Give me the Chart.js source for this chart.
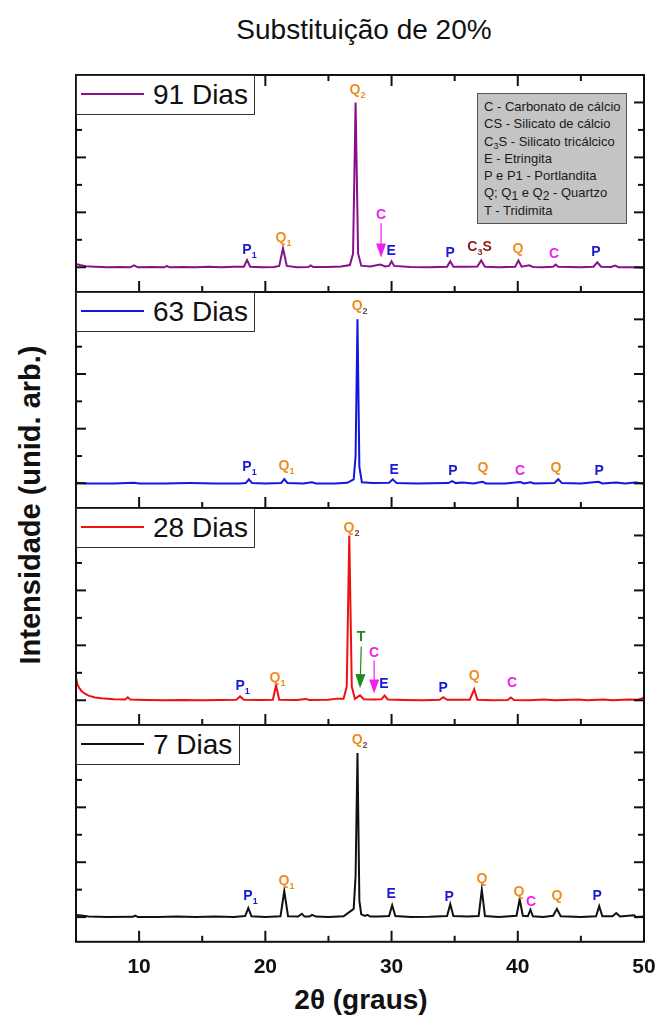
<!DOCTYPE html>
<html>
<head>
<meta charset="utf-8">
<script src="https://cdn.jsdelivr.net/npm/chart.js@4.4.1/dist/chart.umd.min.js"></script>
<style>
  body { margin: 0; background: #fff; font-family: "Liberation Sans", Arial, sans-serif; }
  #page { position: relative; width: 659px; height: 1027px; overflow: hidden; }
  .panel { position: absolute; left: 0; width: 659px; }
  .legend { position: absolute; left: 76px; height: 40px; background: #fff; border: 1px solid #333; box-sizing: border-box; z-index: 2; }
  .legend .swatch { position: absolute; left: 4px; top: 17px; width: 63px; height: 0; border-top: 2px solid; }
  .legend .txt { position: absolute; left: 76px; top: 1px; font-size: 28px; line-height: 36px; color: #111; white-space: nowrap; }
  #minerals { position: absolute; left: 477px; top: 93px; width: 150px; height: 131px; box-sizing: border-box;
              background: #c4c4c4; border: 1px solid #555; z-index: 2; padding: 4px 0 0 6px;
              font-size: 13px; line-height: 17.3px; color: #1a1a1a; white-space: nowrap; }
  #minerals sub { font-size: 9px; vertical-align: -3px; line-height: 0; }
  .title { position: absolute; left: 364px; top: 30px; transform: translate(-50%, -50%); font-size: 28px; color: #111; white-space: nowrap; }
  .ylab { position: absolute; left: 30px; top: 505px; transform: translate(-50%, -50%) rotate(-90deg); font-size: 29px; font-weight: bold; color: #111; white-space: nowrap; }
  .xlab { position: absolute; left: 361px; top: 1000px; transform: translate(-50%, -50%); font-size: 28px; font-weight: bold; color: #111; white-space: nowrap; }
</style>
</head>
<body>
<div id="page">
  <div class="title">Substituição de 20%</div>
  <div class="ylab">Intensidade (unid. arb.)</div>
  <div class="xlab">2θ (graus)</div>

  <div class="panel" style="top:65px;height:237px"><canvas id="c91"></canvas></div>
  <div class="panel" style="top:282px;height:236px"><canvas id="c63"></canvas></div>
  <div class="panel" style="top:498px;height:237px"><canvas id="c28"></canvas></div>
  <div class="panel" style="top:715px;height:270px"><canvas id="c7"></canvas></div>

  <div class="legend" style="top:75px;width:179px"><span class="swatch" style="border-color:#88108a"></span><span class="txt">91 Dias</span></div>
  <div class="legend" style="top:292px;width:179px"><span class="swatch" style="border-color:#1515e0"></span><span class="txt">63 Dias</span></div>
  <div class="legend" style="top:508px;width:179px"><span class="swatch" style="border-color:#ee1111"></span><span class="txt">28 Dias</span></div>
  <div class="legend" style="top:725px;width:164px"><span class="swatch" style="border-color:#111"></span><span class="txt">7 Dias</span></div>

  <div id="minerals">
    C - Carbonato de cálcio<br>
    CS - Silicato de cálcio<br>
    C<sub>3</sub>S - Silicato tricálcico<br>
    E - Etringita<br>
    P e P1 - Portlandita<br>
    Q; Q<sub style="font-size:12px">1</sub> e Q<sub style="font-size:12px">2</sub> - Quartzo<br>
    T - Tridimita
  </div>
</div>

<script>
// ---- data (2θ in degrees, intensity in arbitrary units) ----
const xTickLabels = [10, 20, 30, 40, 50];
const xMinorTicks = [15, 25, 35, 45];
const yTickValues = [0, 1, 2, 3, 4, 5, 6];

const dias91 = [
  [5.0,0.12],[5.3,0.08],[5.8,0.04],[6.5,0.02],[7.5,0.0],[8.5,0.01],[9.3,0.0],[9.6,0.07],[9.9,0.0],
  [11.0,0.01],[12.0,0.0],[12.2,0.05],[12.4,0.0],[13.5,0.01],[14.5,0.0],[15.5,0.02],[16.5,0.0],
  [17.5,0.02],[18.3,0.02],[18.55,0.26],[18.8,0.02],[19.8,0.0],[20.7,0.01],[21.1,0.05],[21.4,0.69],
  [21.7,0.05],[22.5,0.0],[23.4,0.01],[23.6,0.07],[23.8,0.01],[25.0,0.01],[26.0,0.03],[26.7,0.08],
  [26.95,0.5],[27.15,6.0],[27.35,0.5],[27.6,0.06],[28.3,0.03],[29.1,0.1],[29.5,0.03],[29.8,0.05],
  [30.0,0.22],[30.2,0.05],[31.5,0.01],[33.0,0.0],[34.4,0.02],[34.65,0.22],[34.9,0.02],[36.0,0.02],
  [36.8,0.03],[37.1,0.25],[37.4,0.02],[38.5,0.0],[39.8,0.02],[40.05,0.25],[40.3,0.02],[40.9,0.07],
  [41.2,0.01],[42.0,0.0],[42.8,0.02],[43.0,0.1],[43.2,0.02],[45.0,0.0],[46.0,0.02],[46.3,0.18],
  [46.6,0.02],[47.4,0.01],[47.7,0.06],[48.0,0.0],[49.0,0.0],[50.0,-0.02]
];
const dias63 = [
  [5.0,0.02],[6.0,0.0],[8.0,0.0],[9.6,0.02],[10.0,0.0],[12.0,0.0],[14.0,0.01],[16.0,0.0],[18.0,0.0],
  [18.45,0.01],[18.7,0.15],[18.95,0.01],[20.0,0.0],[21.25,0.01],[21.5,0.16],[21.75,0.01],[23.0,0.0],
  [23.7,0.04],[24.0,0.0],[25.5,0.0],[26.5,0.02],[27.0,0.15],[27.15,1.0],[27.3,6.0],[27.45,0.6],
  [27.65,0.04],[28.5,0.01],[29.8,0.02],[30.1,0.15],[30.4,0.01],[32.0,0.0],[34.5,0.01],[34.8,0.08],
  [35.1,0.01],[35.6,0.03],[36.5,0.0],[37.2,0.06],[37.5,0.0],[39.0,0.0],[40.2,0.05],[40.5,0.0],
  [41.0,0.04],[41.3,0.0],[42.9,0.01],[43.2,0.15],[43.5,0.01],[45.0,0.0],[46.4,0.06],[46.7,0.0],
  [47.8,0.03],[48.5,0.0],[49.3,0.03],[50.0,0.0]
];
const dias28 = [
  [5.0,0.82],[5.1,0.6],[5.25,0.45],[5.45,0.33],[5.7,0.24],[6.0,0.17],[6.5,0.1],[7.0,0.07],[8.0,0.04],
  [8.9,0.03],[9.1,0.11],[9.3,0.03],[10.5,0.01],[12.0,0.0],[13.5,0.01],[15.0,0.0],[16.5,0.01],
  [17.7,0.02],[18.0,0.14],[18.3,0.02],[19.5,0.01],[20.6,0.02],[20.85,0.55],[21.1,0.02],[22.5,0.01],
  [23.2,0.05],[23.5,0.01],[25.0,0.02],[25.7,0.06],[26.2,0.06],[26.45,0.5],[26.65,6.0],[26.85,0.5],
  [27.1,0.05],[27.5,0.18],[27.8,0.04],[28.6,0.03],[29.2,0.04],[29.45,0.17],[29.7,0.03],[31.0,0.01],
  [32.5,0.0],[33.8,0.02],[34.1,0.11],[34.4,0.02],[36.2,0.02],[36.55,0.4],[36.8,0.02],[38.0,0.0],
  [39.2,0.01],[39.45,0.1],[39.7,0.01],[41.0,0.0],[42.0,0.03],[43.0,0.0],[44.8,0.03],[45.5,0.0],
  [46.8,0.03],[47.5,0.0],[48.8,0.03],[49.5,0.02],[49.9,0.08],[50.0,0.12]
];
const dias7 = [
  [5.0,0.08],[5.4,0.06],[6.0,0.02],[7.5,0.0],[9.5,0.01],[9.7,0.05],[9.9,0.0],[11.5,0.0],[13.0,0.02],
  [14.5,0.0],[16.0,0.02],[17.5,0.0],[18.4,0.04],[18.65,0.33],[18.9,0.03],[20.0,0.0],[21.2,0.03],
  [21.5,0.95],[21.8,0.03],[22.6,0.02],[22.9,0.12],[23.1,0.02],[23.5,0.02],[23.7,0.08],[24.0,0.02],
  [25.0,0.0],[26.2,0.03],[27.0,0.3],[27.15,1.5],[27.3,5.98],[27.45,0.6],[27.6,0.1],[27.9,0.04],
  [28.1,0.08],[28.3,0.02],[29.0,0.02],[29.8,0.04],[30.05,0.43],[30.3,0.04],[31.5,0.0],[33.0,0.01],
  [34.4,0.04],[34.65,0.47],[34.9,0.04],[36.0,0.02],[36.9,0.04],[37.15,1.0],[37.4,0.04],[38.5,0.0],
  [39.9,0.05],[40.15,0.65],[40.4,0.05],[40.8,0.03],[41.0,0.27],[41.2,0.03],[42.0,0.0],[42.8,0.05],
  [43.1,0.3],[43.4,0.03],[45.0,0.0],[46.2,0.03],[46.45,0.4],[46.7,0.03],[47.5,0.03],[47.8,0.15],
  [48.1,0.02],[49.2,0.07],[49.4,0.0],[50.0,0.02]
];

// peak labels: [letter, subscript, suffix, 2θ, intensity]
const labels91 = [
  ['Q','2','',27.1,6.44],['P','1','',18.55,0.62],['Q','1','',21.24,1.05],['C','','',29.17,1.89],
  ['E','','',29.96,0.58],['P','','',34.64,0.51],['C','3','S',36.4,0.73],['Q','','',40.02,0.65],
  ['C','','',42.88,0.47],['P','','',46.2,0.55]
];
const labels63 = [
  ['Q','2','',27.27,6.47],['P','1','',18.55,0.58],['Q','1','',21.48,0.62],['E','','',30.2,0.47],
  ['P','','',34.87,0.44],['Q','','',37.25,0.55],['C','','',40.18,0.44],['Q','','',43.03,0.55],
  ['P','','',46.44,0.44]
];
const labels28 = [
  ['Q','2','',26.63,6.25],['P','1','',18.0,0.51],['Q','1','',20.77,0.8],['T','','',27.58,2.29],
  ['C','','',28.61,1.7],['E','','',29.4,0.58],['P','','',34.08,0.44],['Q','','',36.54,0.87],
  ['C','','',39.55,0.62]
];
const labels7 = [
  ['Q','2','',27.27,6.44],['P','1','',18.63,0.76],['Q','1','',21.48,1.31],['E','','',29.96,0.84],
  ['P','','',34.56,0.73],['Q','','',37.17,1.38],['Q','','',40.1,0.91],['C','','',41.05,0.55],
  ['Q','','',43.11,0.76],['P','','',46.28,0.76]
];

// arrows: [letter, 2θ from, intensity from, 2θ to, intensity to]
const arrows91 = [['C',29.17,1.6,29.17,0.36]];
const arrows28 = [['T',27.6,1.96,27.5,0.44],['C',28.62,1.45,28.62,0.25]];

// ---- drawing ----
const letterColors = { Q: '#f08c1e', P: '#1a1ad6', E: '#1a1ad6', C: '#f01ef0', T: '#1d8a1d', C3S: '#8b1a1a' };

function colorFor(l) {
  if (l[0] === 'C' && l[2] === 'S') return letterColors.C3S;
  return letterColors[l[0]];
}

const framePlugin = {
  id: 'frame',
  afterDatasetsDraw(chart, args, opts) {
    const { ctx, chartArea: a, scales: { x, y } } = chart;
    ctx.save();
    ctx.strokeStyle = '#111';
    ctx.lineWidth = 2;
    ctx.strokeRect(a.left, a.top, a.right - a.left, a.bottom - a.top);

    const seg = (x1, y1, x2, y2) => { ctx.beginPath(); ctx.moveTo(x1, y1); ctx.lineTo(x2, y2); ctx.stroke(); };
    yTickValues.forEach(v => {
      const py = y.getPixelForValue(v);
      const len = v % 2 === 0 ? 10 : 6;
      seg(a.left, py, a.left + len, py);
      seg(a.right, py, a.right - len, py);
    });
    xTickLabels.concat(xMinorTicks).forEach(v => {
      const px = x.getPixelForValue(v);
      const len = xMinorTicks.includes(v) ? 6 : 11;
      seg(px, a.bottom, px, a.bottom - len);
      if (opts.topTicks) seg(px, a.top, px, a.top + len);
    });

    // peak labels
    ctx.textBaseline = 'middle';
    (opts.labels || []).forEach(l => {
      const px = x.getPixelForValue(l[3]);
      const py = y.getPixelForValue(l[4]);
      const col = colorFor(l);
      ctx.font = 'bold 14px "Liberation Sans", Arial, sans-serif';
      const w0 = ctx.measureText(l[0]).width;
      let cx = px - w0 / 2;
      ctx.fillStyle = col;
      ctx.fillText(l[0], cx, py);
      cx += w0;
      if (l[1]) {
        ctx.font = 'bold 9px "Liberation Sans", Arial, sans-serif';
        ctx.fillStyle = (l[0] === 'Q' && l[1] === '2' && !opts.topTicks) ? '#555' : col;
        ctx.fillText(l[1], cx, py + 5);
        cx += ctx.measureText(l[1]).width;
      }
      if (l[2]) {
        ctx.font = 'bold 14px "Liberation Sans", Arial, sans-serif';
        ctx.fillStyle = col;
        ctx.fillText(l[2], cx, py);
      }
    });

    // arrows
    (opts.arrows || []).forEach(r => {
      const col = letterColors[r[0]];
      const x1 = x.getPixelForValue(r[1]), y1 = y.getPixelForValue(r[2]);
      const x2 = x.getPixelForValue(r[3]), y2 = y.getPixelForValue(r[4]);
      const ang = Math.atan2(y2 - y1, x2 - x1);
      const hl = 14, hw = 5;
      const bx = x2 - hl * Math.cos(ang), by = y2 - hl * Math.sin(ang);
      ctx.strokeStyle = col;
      ctx.lineWidth = 1.2;
      seg(x1, y1, bx, by);
      ctx.fillStyle = col;
      ctx.beginPath();
      ctx.moveTo(x2, y2);
      ctx.lineTo(bx + hw * Math.sin(ang), by - hw * Math.cos(ang));
      ctx.lineTo(bx - hw * Math.sin(ang), by + hw * Math.cos(ang));
      ctx.closePath();
      ctx.fill();
    });
    ctx.restore();
  }
};

function makePanel(id, points, color, labels, arrows, opts) {
  new Chart(document.getElementById(id), {
    type: 'line',
    data: {
      datasets: [{
        data: points.map(([x, y]) => ({ x, y })),
        borderColor: color,
        borderWidth: 2,
        pointRadius: 0,
        tension: 0,
        fill: false
      }]
    },
    options: {
      responsive: true,
      maintainAspectRatio: false,
      animation: false,
      events: [],
      layout: { padding: { left: 76, right: 15, top: 10, bottom: opts.showX ? 0 : 10 } },
      plugins: {
        legend: { display: false },
        tooltip: { enabled: false },
        frame: { labels, arrows, topTicks: !!opts.topTicks }
      },
      scales: {
        x: {
          type: 'linear', min: 5, max: 50,
          display: !!opts.showX,
          afterBuildTicks: s => { s.ticks = xTickLabels.map(v => ({ value: v })); },
          // let the "50" label hang past the frame instead of shrinking the plot
          afterFit: s => { s.paddingLeft = 0; s.paddingRight = 0; },
          grid: { display: false },
          border: { display: false },
          ticks: {
            autoSkip: false, maxRotation: 0, padding: 5, color: '#111',
            font: { family: '"Liberation Sans", Arial, sans-serif', size: 21, weight: 'bold' }
          }
        },
        y: { type: 'linear', min: -0.9, max: 7.0, display: false }
      }
    },
    plugins: [framePlugin]
  });
}

makePanel('c91', dias91, '#88108a', labels91, arrows91, { topTicks: true });
makePanel('c63', dias63, '#1515e0', labels63, [], {});
makePanel('c28', dias28, '#ee1111', labels28, arrows28, {});
makePanel('c7', dias7, '#111111', labels7, [], { showX: true });
</script>
</body>
</html>
